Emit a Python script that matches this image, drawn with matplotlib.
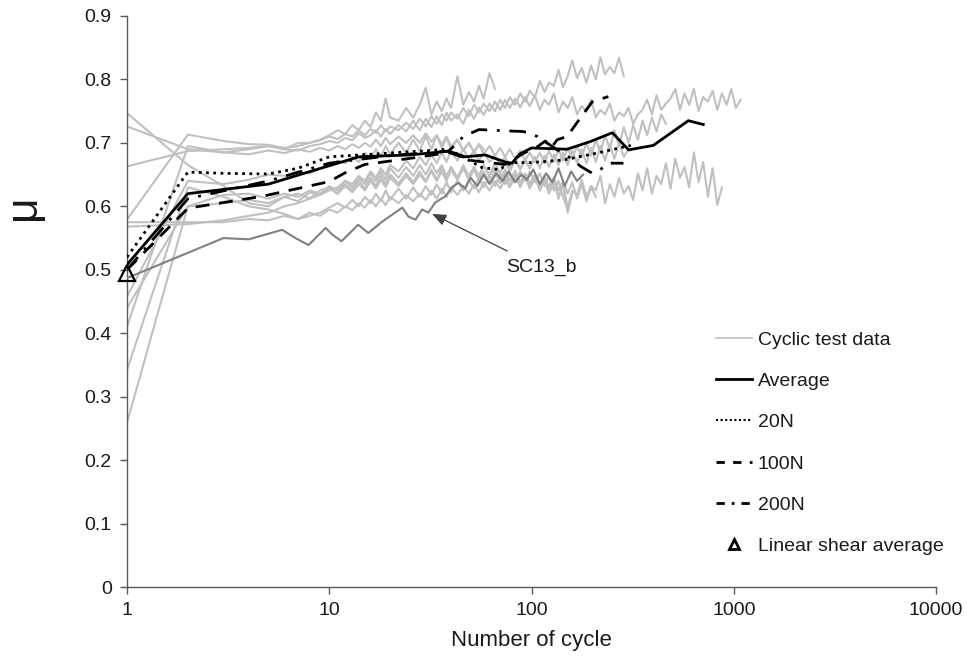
import matplotlib
matplotlib.use("Agg")
import matplotlib.pyplot as plt
from matplotlib.lines import Line2D

plt.rcParams['font.family'] = ['Liberation Sans', 'DejaVu Sans']

# ---------------- data ----------------
X_EARLY = [1, 2, 3, 4, 5, 6, 7, 8, 9, 10, 11, 12, 13, 14, 15, 16, 17, 18, 19, 20,
           22, 24, 26, 28, 30, 32, 34, 36, 38, 40, 43, 46, 49, 52, 55, 58, 62, 66,
           70, 74, 78, 83, 88, 93, 98]
X_LATE = [104, 110, 116, 122, 129, 136, 143, 151, 159, 168, 177, 187, 197, 208, 219,
          231, 244, 257, 271, 286, 302, 318, 336, 354, 373, 394, 415, 438, 462, 487,
          514, 542, 571, 602, 635, 670, 706, 745, 786, 829, 874, 922, 972, 1025, 1081]

cyc_1 = [0.726, 0.69, 0.685, 0.69, 0.695, 0.69, 0.70, 0.70, 0.705, 0.712, 0.72, 0.714,
         0.728, 0.72, 0.735, 0.725, 0.748, 0.735, 0.77, 0.74, 0.735, 0.755, 0.74, 0.76,
         0.787, 0.745, 0.765, 0.75, 0.77, 0.755, 0.805, 0.76, 0.78, 0.765, 0.79, 0.77,
         0.81, 0.785]
cyc_2 = [0.663, 0.687, 0.69, 0.692, 0.695, 0.69, 0.688, 0.695, 0.698, 0.703, 0.70, 0.708,
         0.704, 0.715, 0.708, 0.712, 0.72, 0.71, 0.722, 0.714, 0.728, 0.718, 0.735, 0.72,
         0.738, 0.725, 0.742, 0.728, 0.748, 0.735, 0.745, 0.73, 0.752, 0.738, 0.756, 0.744,
         0.762, 0.75, 0.768, 0.755, 0.772, 0.76, 0.778, 0.765, 0.782,
         0.772, 0.798, 0.78, 0.795, 0.79, 0.815, 0.788, 0.805, 0.83, 0.802, 0.818, 0.795,
         0.822, 0.80, 0.835, 0.808, 0.82, 0.81, 0.834, 0.805]
cyc_3 = [0.579, 0.713, 0.703, 0.698, 0.697, 0.692, 0.695, 0.70, 0.704, 0.71, 0.706, 0.714,
         0.71, 0.72, 0.712, 0.722, 0.716, 0.728, 0.718, 0.726, 0.72, 0.732, 0.722, 0.738,
         0.726, 0.742, 0.73, 0.745, 0.735, 0.748, 0.738, 0.755, 0.742, 0.76, 0.748, 0.762,
         0.75, 0.765, 0.752, 0.768, 0.755, 0.77, 0.756, 0.772, 0.758,
         0.775, 0.752, 0.768, 0.76, 0.778, 0.748, 0.765, 0.755, 0.772, 0.745, 0.758, 0.75,
         0.768, 0.74, 0.752, 0.745, 0.762, 0.735, 0.748, 0.742, 0.755, 0.73, 0.745, 0.752,
         0.768, 0.745, 0.775, 0.752, 0.762, 0.77, 0.785, 0.752, 0.778, 0.76, 0.785, 0.75,
         0.772, 0.765, 0.782, 0.752, 0.778, 0.76, 0.785, 0.755, 0.768]
cyc_4 = [0.44, 0.60, 0.605, 0.61, 0.605, 0.615, 0.62, 0.612, 0.625, 0.63, 0.62, 0.635,
         0.625, 0.64, 0.628, 0.645, 0.632, 0.648, 0.635, 0.65, 0.636, 0.652, 0.638, 0.655,
         0.64, 0.658, 0.642, 0.66, 0.645, 0.662, 0.645, 0.665, 0.648, 0.662, 0.645, 0.665,
         0.648, 0.66, 0.642, 0.658, 0.64, 0.656, 0.638, 0.652, 0.635,
         0.65, 0.628, 0.642, 0.632, 0.645, 0.612, 0.635, 0.598, 0.625, 0.618, 0.642, 0.615,
         0.632, 0.625, 0.648, 0.605, 0.635, 0.615, 0.645, 0.62, 0.632, 0.61, 0.652, 0.625,
         0.66, 0.62, 0.648, 0.635, 0.668, 0.628, 0.675, 0.645, 0.662, 0.63, 0.685, 0.638,
         0.67, 0.615, 0.66, 0.602, 0.63]
cyc_5 = [0.41, 0.695, 0.685, 0.682, 0.688, 0.684, 0.69, 0.686, 0.692, 0.688, 0.695, 0.69,
         0.698, 0.692, 0.70, 0.694, 0.705, 0.695, 0.708, 0.698, 0.71, 0.70, 0.712, 0.70,
         0.715, 0.702, 0.712, 0.698, 0.71, 0.695, 0.705, 0.688, 0.70, 0.685, 0.698, 0.682,
         0.695, 0.68, 0.692, 0.678, 0.69, 0.675, 0.688, 0.672, 0.685,
         0.67, 0.685, 0.668, 0.688, 0.67, 0.69, 0.672, 0.692, 0.675, 0.695, 0.678, 0.70,
         0.68, 0.705, 0.685, 0.712, 0.69, 0.72, 0.695, 0.725, 0.70, 0.728, 0.705, 0.735,
         0.712, 0.74, 0.718, 0.745, 0.73]
cyc_6 = [0.747, 0.665, 0.632, 0.605, 0.60, 0.615, 0.608, 0.622, 0.618, 0.632, 0.625, 0.64,
         0.63, 0.645, 0.635, 0.652, 0.64, 0.655, 0.642, 0.66, 0.645, 0.662, 0.648, 0.665,
         0.65, 0.668, 0.652, 0.665, 0.648, 0.662, 0.645, 0.66, 0.642, 0.658, 0.64, 0.655,
         0.638, 0.655, 0.636, 0.652, 0.632, 0.65, 0.63, 0.648, 0.628,
         0.645, 0.625, 0.642, 0.62, 0.638, 0.615, 0.635, 0.59, 0.62]
cyc_7 = [0.568, 0.572, 0.578, 0.585, 0.59, 0.60, 0.605, 0.612, 0.618, 0.625, 0.63, 0.64,
         0.635, 0.648, 0.64, 0.655, 0.645, 0.66, 0.65, 0.665, 0.655, 0.672, 0.66, 0.678,
         0.665, 0.682, 0.668, 0.685, 0.67, 0.688, 0.672, 0.69, 0.675, 0.688, 0.672, 0.685,
         0.67, 0.68, 0.665, 0.678, 0.662, 0.675, 0.66, 0.672, 0.66]
cyc_8 = [0.458, 0.64, 0.635, 0.642, 0.65, 0.648, 0.655, 0.652, 0.66, 0.665, 0.672, 0.668,
         0.678, 0.67, 0.684, 0.675, 0.69, 0.678, 0.695, 0.682, 0.70, 0.685, 0.705, 0.688,
         0.71, 0.69, 0.712, 0.692, 0.708, 0.69, 0.705, 0.688, 0.70, 0.685, 0.698, 0.69]
cyc_9 = [0.342, 0.63, 0.615, 0.60, 0.595, 0.588, 0.58, 0.585, 0.59, 0.598, 0.605, 0.598,
         0.61, 0.60, 0.615, 0.605, 0.62, 0.608, 0.625, 0.61, 0.628, 0.612, 0.63, 0.615,
         0.632, 0.618, 0.635, 0.62, 0.638, 0.622, 0.64, 0.625, 0.642, 0.628, 0.645, 0.63,
         0.648, 0.632, 0.65, 0.635, 0.652, 0.638, 0.655, 0.64, 0.655,
         0.638, 0.652, 0.632, 0.648, 0.625, 0.64, 0.615, 0.595]
cyc_10 = [0.259, 0.60, 0.618, 0.62, 0.612, 0.62, 0.615, 0.625, 0.62, 0.628, 0.62, 0.632,
          0.622, 0.635, 0.625, 0.64, 0.628, 0.642, 0.63, 0.645, 0.632, 0.648, 0.635, 0.65,
          0.638, 0.655, 0.64, 0.655, 0.64, 0.658, 0.642, 0.66, 0.645, 0.662, 0.648, 0.665,
          0.65, 0.668, 0.652, 0.67, 0.655, 0.672, 0.658, 0.675, 0.66,
          0.678, 0.66, 0.68, 0.662, 0.682, 0.665, 0.685, 0.665, 0.688, 0.668, 0.69, 0.668,
          0.692, 0.67, 0.695, 0.672, 0.698, 0.675, 0.70, 0.678, 0.69]
cyc_11 = [0.575, 0.575, 0.575, 0.58, 0.578, 0.585, 0.58, 0.59, 0.585, 0.595, 0.59, 0.60,
          0.594, 0.605, 0.598, 0.61, 0.60, 0.612, 0.602, 0.615, 0.605, 0.618, 0.608, 0.62,
          0.61, 0.625, 0.612, 0.628, 0.615, 0.63, 0.618, 0.632, 0.62, 0.635, 0.622, 0.638,
          0.625, 0.64, 0.628, 0.642, 0.63, 0.645, 0.632, 0.648, 0.635,
          0.65, 0.632, 0.648, 0.628, 0.645, 0.625, 0.64, 0.62, 0.638, 0.612, 0.635, 0.608,
          0.63, 0.615]
cyclic_series = [cyc_1, cyc_2, cyc_3, cyc_4, cyc_5, cyc_6, cyc_7, cyc_8, cyc_9, cyc_10, cyc_11]

sc13b_x = [1, 3, 4, 5.85, 6.8, 7.9, 9.6, 10.3, 11.5, 13.9, 15.6, 18.3, 20.5, 23, 24.6,
           26.7, 28.8, 30.9, 33.4, 37.6, 40.7, 43.6, 47, 50, 54, 58, 62, 67, 72, 77, 83,
           89, 95, 102, 110, 118, 127, 136, 146, 157, 168, 180]
sc13b_y = [0.487, 0.55, 0.548, 0.563, 0.55, 0.539, 0.566, 0.556, 0.545, 0.571, 0.558,
           0.576, 0.587, 0.598, 0.584, 0.579, 0.595, 0.59, 0.606, 0.616, 0.631, 0.637,
           0.628, 0.645, 0.632, 0.65, 0.635, 0.652, 0.64, 0.655, 0.638, 0.65, 0.642,
           0.658, 0.635, 0.652, 0.638, 0.66, 0.632, 0.655, 0.64, 0.65]

avg_x = [1, 2, 5, 10, 14, 25, 39, 47, 59, 74, 80, 88, 100, 150, 195, 251, 302, 400, 596, 707]
avg_y = [0.508, 0.62, 0.635, 0.664, 0.678, 0.681, 0.687, 0.678, 0.681, 0.67, 0.668, 0.683,
         0.692, 0.69, 0.702, 0.716, 0.689, 0.696, 0.735, 0.729]

n20_x = [1, 2, 3, 5, 7, 10, 20, 39, 57, 69, 80, 100, 144, 211, 310]
n20_y = [0.52, 0.654, 0.652, 0.651, 0.66, 0.678, 0.684, 0.69, 0.661, 0.658, 0.669, 0.669,
         0.673, 0.684, 0.696]

n100_x = [1, 2, 4.7, 10, 12, 15, 27, 39, 51, 74, 93, 107, 117, 125, 134, 150, 175, 200, 240]
n100_y = [0.50, 0.597, 0.616, 0.639, 0.653, 0.666, 0.677, 0.685, 0.672, 0.666, 0.685,
          0.694, 0.703, 0.692, 0.705, 0.71, 0.74, 0.765, 0.773]

n200_x = [1, 2, 5, 10, 20, 39, 46, 55, 74, 90, 97, 107, 140, 156, 175, 200, 219, 240, 285]
n200_y = [0.50, 0.612, 0.64, 0.668, 0.68, 0.687, 0.71, 0.721, 0.719, 0.718, 0.716, 0.71,
          0.685, 0.676, 0.663, 0.652, 0.658, 0.668, 0.668]

shear_x = [1]
shear_y = [0.495]

x_ticks = [1, 10, 100, 1000, 10000]
x_tick_labels = ['1', '10', '100', '1000', '10000']
y_ticks = [0, 0.1, 0.2, 0.3, 0.4, 0.5, 0.6, 0.7, 0.8, 0.9]
y_tick_labels = ['0', '0.1', '0.2', '0.3', '0.4', '0.5', '0.6', '0.7', '0.8', '0.9']

# ---------------- figure ----------------
fig = plt.figure(figsize=(9.71, 6.61), dpi=100)
ax = fig.add_axes([127 / 971, 1 - 587 / 661, (936 - 127) / 971, (587 - 16) / 661])

LIGHT = '#c0c0c0'
DARK = '#808080'
all_x = X_EARLY + X_LATE
for ys in cyclic_series:
    ax.plot(all_x[:len(ys)], ys, color=LIGHT, lw=1.5, zorder=2)
ax.plot(sc13b_x, sc13b_y, color=DARK, lw=1.5, zorder=3)

ax.plot(n20_x, n20_y, color='black', lw=2, ls=(0, (1, 1.6)), zorder=5)
ax.plot(n100_x, n100_y, color='black', lw=2, ls=(0, (5, 3.5)), zorder=5)
ax.plot(n200_x, n200_y, color='black', lw=2, ls=(0, (6, 3.5, 1, 3.5)), zorder=5)
ax.plot(avg_x, avg_y, color='black', lw=2, zorder=6)
ax.plot(shear_x, shear_y, ls='none', marker='^', markersize=12, mfc='none',
        mec='black', mew=1.6, zorder=7, clip_on=False)

ax.annotate('SC13_b', xy=(32.3, 0.588), xytext=(112, 0.503), textcoords='data',
            ha='center', va='center', fontsize=14, color='#1a1a1a',
            arrowprops=dict(arrowstyle='-|>,head_length=0.6,head_width=0.25',
                            color='#404040', lw=0.9, shrinkA=9, shrinkB=0))

ax.set_xscale('log')
ax.set_xlim(1, 10000)
ax.set_ylim(0, 0.9)
ax.set_xticks(x_ticks)
ax.set_xticklabels(x_tick_labels)
ax.xaxis.set_minor_locator(matplotlib.ticker.NullLocator())
ax.set_yticks(y_ticks)
ax.set_yticklabels(y_tick_labels)

for s in ['top', 'right']:
    ax.spines[s].set_visible(False)
for s in ['left', 'bottom']:
    ax.spines[s].set_color('#595959')
    ax.spines[s].set_linewidth(1.0)
ax.tick_params(axis='both', direction='out', length=5, width=1, color='#595959',
               labelsize=14, labelcolor='#1a1a1a', pad=6)

ax.set_xlabel('Number of cycle', fontsize=16, color='#1a1a1a', labelpad=8)
ax.set_ylabel('μ', fontsize=32, color='#1a1a1a')
ax.yaxis.set_label_coords(-0.103, 0.666)

handles = [
    Line2D([], [], color=LIGHT, lw=1.2),
    Line2D([], [], color='black', lw=2),
    Line2D([], [], color='black', lw=1.5, ls=(0, (1, 1.2))),
    Line2D([], [], color='black', lw=2, ls=(0, (3, 3))),
    Line2D([], [], color='black', lw=2, ls=(0, (3, 2.5, 1, 2.5))),
    Line2D([], [], ls='none', marker='^', markersize=7, mfc='none', mec='black', mew=2),
]
labels = ['Cyclic test data', 'Average', '20N', '100N', '200N', 'Linear shear average']
leg = fig.legend(handles, labels, loc='upper left', bbox_to_anchor=(716 / 971, 1 - 331 / 661),
                 bbox_transform=fig.transFigure, frameon=False, fontsize=14,
                 handlelength=1.85, handletextpad=0.3, labelspacing=1.22, borderpad=0,
                 borderaxespad=0)
for t in leg.get_texts():
    t.set_color('#1a1a1a')

fig.savefig('out.png', dpi=100)
